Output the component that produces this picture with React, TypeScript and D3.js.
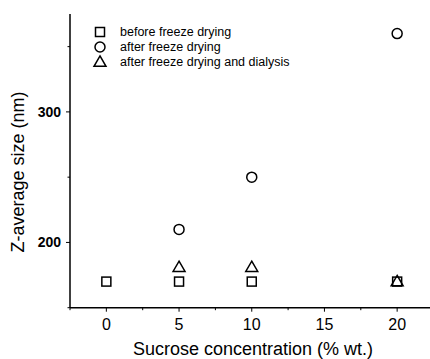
import { useEffect, useRef } from "react";
import * as d3 from "d3";

// sucrose concentration (% wt.)
const conc = [0, 5, 10, 20];
// Z-average size (nm)
const beforeFD = [170, 170, 170, 170];
const afterFD = [null, 210, 250, 360];
const afterFDDialysis = [null, 181, 181, 170];

const xTicks = [0, 5, 10, 15, 20];
const xMinor = [-2.5, 2.5, 7.5, 12.5, 17.5, 22.5];
const yTicks = [200, 300];
const yMinor = [150, 250, 350];

const legendItems = [
  { shape: "square", label: "before freeze drying" },
  { shape: "circle", label: "after freeze drying" },
  { shape: "triangle", label: "after freeze drying and dialysis" },
];

const W = 430,
  H = 359;

const App = () => {
  const svgRef = useRef<SVGSVGElement>(null);

  useEffect(() => {
    const svg = d3.select(svgRef.current);
    svg.selectAll("*").remove();

    const x = d3.scaleLinear().domain([-2.5, 22.5]).range([70, 433.5]);
    const y = d3.scaleLinear().domain([150, 375]).range([307.7, 14]);
    const font = "Arial, 'Liberation Sans', sans-serif";

    const drawMarker = (g: any, shape: string, cx: number, cy: number) => {
      if (shape === "square") {
        g.append("rect")
          .attr("x", cx - 4.5)
          .attr("y", cy - 4.5)
          .attr("width", 9)
          .attr("height", 9)
          .attr("fill", "none")
          .attr("stroke", "#000")
          .attr("stroke-width", 1.5);
      } else if (shape === "circle") {
        g.append("circle")
          .attr("cx", cx)
          .attr("cy", cy)
          .attr("r", 5)
          .attr("fill", "none")
          .attr("stroke", "#000")
          .attr("stroke-width", 1.5);
      } else {
        const tri = d3.symbol().type(d3.symbolTriangle).size(62);
        g.append("path")
          .attr("d", tri()!)
          .attr("transform", `translate(${cx},${cy + 0.8})`)
          .attr("fill", "none")
          .attr("stroke", "#000")
          .attr("stroke-width", 1.5);
      }
    };

    // axes lines
    svg
      .append("line")
      .attr("x1", x(-2.5))
      .attr("x2", x(-2.5))
      .attr("y1", y(375))
      .attr("y2", y(150))
      .attr("stroke", "#000")
      .attr("stroke-width", 1.5);
    svg
      .append("line")
      .attr("x1", x(-2.5))
      .attr("x2", W)
      .attr("y1", y(150))
      .attr("y2", y(150))
      .attr("stroke", "#000")
      .attr("stroke-width", 1.5);

    // x ticks
    xTicks.forEach((t) => {
      svg
        .append("line")
        .attr("x1", x(t))
        .attr("x2", x(t))
        .attr("y1", y(150))
        .attr("y2", y(150) + 4)
        .attr("stroke", "#000")
        .attr("stroke-width", 1);
      svg
        .append("text")
        .attr("x", x(t))
        .attr("y", 330)
        .attr("text-anchor", "middle")
        .attr("font-family", font)
        .attr("font-size", 16)
        .text(t);
    });
    xMinor.forEach((t) => {
      svg
        .append("line")
        .attr("x1", x(t))
        .attr("x2", x(t))
        .attr("y1", y(150))
        .attr("y2", y(150) + 2.5)
        .attr("stroke", "#000")
        .attr("stroke-width", 1);
    });

    // y ticks
    yTicks.forEach((t) => {
      svg
        .append("line")
        .attr("x1", x(-2.5) - 4)
        .attr("x2", x(-2.5))
        .attr("y1", y(t))
        .attr("y2", y(t))
        .attr("stroke", "#000")
        .attr("stroke-width", 1);
      svg
        .append("text")
        .attr("x", 61)
        .attr("y", y(t))
        .attr("dy", "0.36em")
        .attr("text-anchor", "end")
        .attr("font-family", font)
        .attr("font-weight", "bold")
        .attr("font-size", 14)
        .text(t);
    });
    yMinor.forEach((t) => {
      svg
        .append("line")
        .attr("x1", x(-2.5) - 2.5)
        .attr("x2", x(-2.5))
        .attr("y1", y(t))
        .attr("y2", y(t))
        .attr("stroke", "#000")
        .attr("stroke-width", 1);
    });

    // axis titles
    svg
      .append("text")
      .attr("x", 253)
      .attr("y", 355)
      .attr("text-anchor", "middle")
      .attr("font-family", font)
      .attr("font-size", 18)
      .text("Sucrose concentration (% wt.)");
    svg
      .append("text")
      .attr("transform", `translate(24, 172) rotate(-90)`)
      .attr("text-anchor", "middle")
      .attr("font-family", font)
      .attr("font-size", 18)
      .text("Z-average size (nm)");

    // data
    const g = svg.append("g");
    const series = [
      { shape: "square", vals: beforeFD },
      { shape: "circle", vals: afterFD },
      { shape: "triangle", vals: afterFDDialysis },
    ];
    series.forEach((s) => {
      s.vals.forEach((v, i) => {
        if (v == null) return;
        drawMarker(g, s.shape, x(conc[i]), y(v));
      });
    });

    // legend
    const lg = svg.append("g");
    legendItems.forEach((d, i) => {
      const cy = 32 + i * 15;
      drawMarker(lg, d.shape, 100, cy);
      lg.append("text")
        .attr("x", 120)
        .attr("y", cy)
        .attr("dy", "0.35em")
        .attr("font-family", font)
        .attr("font-size", 12.5)
        .text(d.label);
    });
  }, []);

  return (
    <svg
      ref={svgRef}
      width={W}
      height={H}
      style={{ position: "absolute", left: 0, top: 0, background: "#fff" }}
    ></svg>
  );
};

export default App;
